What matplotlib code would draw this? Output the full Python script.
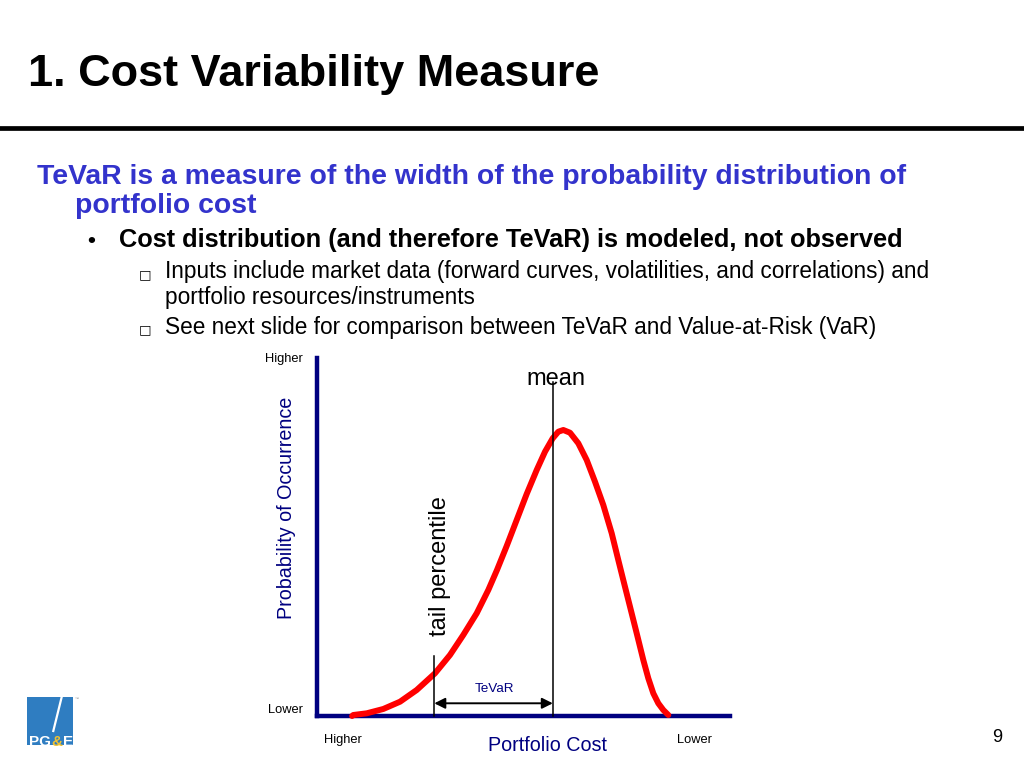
import matplotlib
matplotlib.use("Agg")
import matplotlib.pyplot as plt
from matplotlib.patches import Rectangle

W, H = 1024, 768

# ---- data ----
curve_x = [8.5, 8.79, 12.03, 16.05, 20.10, 24.14, 28.57, 32.20, 35.42, 38.67, 41.48,
           43.58, 45.93, 48.35, 50.77, 53.20, 55.21, 57.07, 58.43, 59.64, 61.26,
           63.27, 65.30, 67.31, 69.32, 71.36, 72.95, 74.16, 75.79, 77.41, 79.01,
           80.22, 81.43, 82.64, 83.85, 85.06]
curve_y = [0.0, 0.28, 0.75, 1.96, 3.99, 7.26, 11.93, 17.04, 22.63, 28.69, 35.20,
           40.78, 47.49, 54.75, 62.01, 68.72, 73.83, 77.57, 79.41, 79.89, 79.13,
           76.17, 71.51, 65.45, 58.94, 51.03, 43.58, 37.99, 30.53, 23.10, 15.64,
           10.53, 6.34, 3.55, 1.68, 0.28]
mean_x = 57.1
mean_top = 93.4
tail_x = 28.4
tail_top = 16.8
tevar_arrow_y = 3.55

title = "1. Cost Variability Measure"
headline = ["TeVaR is a measure of the width of the probability distribution of",
            "portfolio cost"]
bullet = "Cost distribution (and therefore TeVaR) is modeled, not observed"
subbullets = [["Inputs include market data (forward curves, volatilities, and correlations) and",
               "portfolio resources/instruments"],
              ["See next slide for comparison between TeVaR and Value-at-Risk (VaR)"]]

plt.rcParams['font.family'] = ['Liberation Sans', 'DejaVu Sans']

fig = plt.figure(figsize=(W / 100, H / 100), dpi=100)
fig.patch.set_facecolor('white')


def T(x, y, s, size, **kw):
    kw.setdefault('va', 'baseline')
    return fig.text(x / W, 1 - y / H, s, fontsize=size, **kw)


BLUE = '#3333CC'
NAVY = '#000080'

# title and rule
T(28, 86, title, 32.5, weight='bold', color='black')
fig.add_artist(plt.Line2D([0, 1], [1 - 127.5 / H, 1 - 127.5 / H], color='black', lw=3.4))

# headline text
T(37, 184, headline[0], 20.4, weight='bold', color=BLUE)
T(75, 213, headline[1], 20.4, weight='bold', color=BLUE)
T(87, 247, "\u2022", 16, weight='bold', color='black')
T(119, 247.5, bullet, 18.3, weight='bold', color='black')
sub_y = [[278, 303.5], [334]]
sq_y = [278, 333.5]
for lines, ys, sy in zip(subbullets, sub_y, sq_y):
    T(139, sy, "\u25a1", 9.5, color='black', family=['DejaVu Sans'])
    for ln, yy in zip(lines, ys):
        T(165, yy, ln, 16.25, color='black')

# chart axes
ax = fig.add_axes([317 / W, 52 / H, 413 / W, 358 / H])
ax.set_xlim(0, 100)
ax.set_ylim(0, 100)
ax.set_xticks([])
ax.set_yticks([])
for side in ['top', 'right']:
    ax.spines[side].set_visible(False)
for side in ['left', 'bottom']:
    ax.spines[side].set_color(NAVY)
    ax.spines[side].set_linewidth(3.2)
ax.patch.set_alpha(0)

ax.plot(curve_x, curve_y, color='#FF0000', lw=4.3, solid_capstyle='round',
        solid_joinstyle='round', clip_on=False, zorder=3)
ax.plot([mean_x, mean_x], [0, mean_top], color='black', lw=1.1, zorder=4, clip_on=False)
ax.plot([tail_x, tail_x], [0, tail_top], color='black', lw=1.1, zorder=4, clip_on=False)
ax.annotate('', xy=(tail_x, tevar_arrow_y), xytext=(mean_x, tevar_arrow_y),
            arrowprops=dict(arrowstyle='<|-|>', color='black', lw=1.4,
                            mutation_scale=16, shrinkA=0, shrinkB=0), zorder=5)

# chart labels
T(303, 362, "Higher", 9.3, ha='right', color='black')
T(303, 713, "Lower", 9.3, ha='right', color='black')
T(343, 743, "Higher", 9.3, ha='center', color='black')
T(695, 743, "Lower", 9.3, ha='center', color='black')
T(547, 751, "Portfolio Cost", 14.2, ha='center', color=NAVY)
T(287, 508, "Probability of Occurrence", 14.2, ha='center', va='center',
  rotation=90, color=NAVY)
T(556, 385, "mean", 17, ha='center', color='black')
T(440, 566, "tail percentile", 17, ha='center', va='center', rotation=90, color='black')
T(494, 692, "TeVaR", 9.7, ha='center', color=NAVY)

# page number
T(997, 742, "9", 13, ha='center', color='black')

# logo
fig.add_artist(Rectangle((27 / W, 1 - 745 / H), 46 / W, 48 / H,
                         transform=fig.transFigure, facecolor='#2F7DC1', edgecolor='none'))
fig.add_artist(plt.Line2D([61.7 / W, 53.3 / W], [1 - 697 / H, 1 - 731 / H],
                          color='white', lw=1.6))
T(28.5, 746, "PG", 11, weight='bold', color='white')
T(51.5, 746, "&", 11, weight='bold', color='#F2C230')
T(63, 746, "E", 11, weight='bold', color='white')
T(75, 700, "\u2122", 3, color='#888888')

fig.savefig('out.png', dpi=100, facecolor='white')
